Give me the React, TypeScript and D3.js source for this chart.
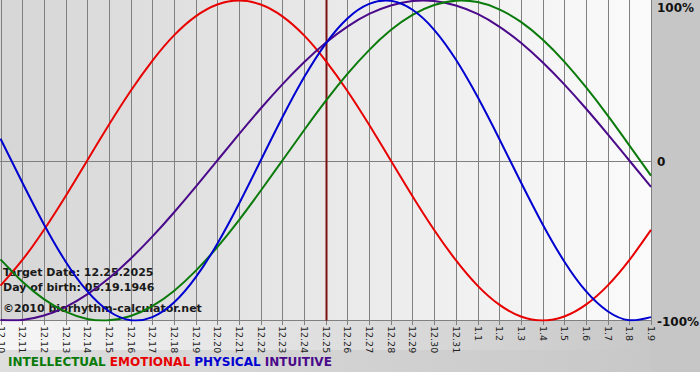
import React from "react";
import * as d3 from "d3";

const dayLabels = [
  "12.10","12.11","12.12","12.13","12.14","12.15","12.16","12.17","12.18","12.19","12.20",
  "12.21","12.22","12.23","12.24","12.25","12.26","12.27","12.28","12.29","12.30","12.31",
  "1.1","1.2","1.3","1.4","1.5","1.6","1.7","1.8","1.9",
];

const intellectual = [
  -0.618,-0.756,-0.866,-0.945,-0.990,-0.999,-0.972,-0.910,-0.815,-0.690,-0.541,
  -0.372,-0.189,0,0.189,0.372,0.541,0.690,0.815,0.910,0.972,0.999,
  0.990,0.945,0.866,0.756,0.618,0.458,0.282,0.095,-0.095,
];
const emotional = [
  -0.782,-0.623,-0.434,-0.223,0,0.223,0.434,0.623,0.782,0.901,0.975,
  1,0.975,0.901,0.782,0.623,0.434,0.223,0,-0.223,-0.434,-0.623,
  -0.782,-0.901,-0.975,-1,-0.975,-0.901,-0.782,-0.623,-0.434,
];
const physical = [
  0.136,-0.136,-0.398,-0.631,-0.817,-0.942,-0.998,-0.979,-0.888,-0.731,-0.520,
  -0.270,0,0.270,0.520,0.731,0.888,0.979,0.998,0.942,0.817,0.631,
  0.398,0.136,-0.136,-0.398,-0.631,-0.817,-0.942,-0.998,-0.979,
];
const intuitive = [
  -0.997,-0.997,-0.969,-0.916,-0.837,-0.736,-0.614,-0.476,-0.325,-0.165,0,
  0.165,0.325,0.476,0.614,0.736,0.837,0.916,0.969,0.997,0.997,0.969,
  0.916,0.837,0.736,0.614,0.476,0.325,0.165,0,-0.165,
];

const seriesNames = ["INTELLECTUAL", "EMOTIONAL", "PHYSICAL", "INTUITIVE"];
const seriesColors = ["#0a7a0a", "#e80000", "#0000d0", "#4a0a8a"];
const seriesData = [intellectual, emotional, physical, intuitive];
const drawOrder = [1, 3, 0, 2];
const targetIndex = 15;
const yTickLabels = ["100%", "0", "-100%"];
const yTickValues = [1, 0, -1];
const infoLines = ["Target Date: 12.25.2025", "Day of birth: 05.19.1946", "©2010 biorhythm-calculator.net"];

const W = 700, H = 380;
const PW = 651, PH = 320.5;

export default function App() {
  const x = d3.scaleLinear().domain([0, dayLabels.length - 1]).range([0.5, PW]);
  const y = d3.scaleLinear().domain([-1, 1]).range([PH, 0.5]);
  const line = d3.line<number>().x((_, i) => x(i)).y((d) => y(d)).curve(d3.curveNatural);
  const font = "'DejaVu Sans', Verdana, sans-serif";
  const yLabelPos = [12, y(0) + 5, y(-1) + 5];

  return (
    <svg width={W} height={H} style={{ position: "absolute", left: 0, top: 0, display: "block" }} fontFamily={font}>
      <defs>
        <linearGradient id="plotBg" x1="0" x2="1" y1="0" y2="0">
          <stop offset="0" stopColor="#d6d6d6" />
          <stop offset="1" stopColor="#fbfbfb" />
        </linearGradient>
        <linearGradient id="outerBg" x1="0" x2="1" y1="0" y2="0">
          <stop offset="0" stopColor="#f6f6f6" />
          <stop offset="1" stopColor="#c4c4c4" />
        </linearGradient>
        <linearGradient id="legendBg" x1="0" x2="1" y1="0" y2="0">
          <stop offset="0" stopColor="#dedede" />
          <stop offset="1" stopColor="#c6c6c6" />
        </linearGradient>
        <clipPath id="plotClip">
          <rect x={0} y={0} width={PW + 1} height={PH + 1} />
        </clipPath>
      </defs>
      <rect x={0} y={0} width={W} height={H} fill="#ffffff" />
      <rect x={0} y={0} width={W} height={350} fill="url(#outerBg)" />
      <rect x={0} y={350} width={W} height={22} fill="url(#legendBg)" />
      <rect x={PW} y={0} width={W - PW} height={372} fill="#c6c6c6" />
      <rect x={0} y={0} width={PW} height={PH} fill="url(#plotBg)" />

      {dayLabels.map((d, i) => (
        <line key={"g" + i} x1={Math.round(x(i)) + 0.5} x2={Math.round(x(i)) + 0.5} y1={0} y2={325} stroke="#808080" strokeWidth={1} />
      ))}
      <line x1={0} x2={PW} y1={Math.round(y(0)) + 0.5} y2={Math.round(y(0)) + 0.5} stroke="#808080" />
      <line x1={0} x2={PW} y1={PH} y2={PH} stroke="#808080" />

      <line x1={Math.round(x(targetIndex)) + 0.5} x2={Math.round(x(targetIndex)) + 0.5} y1={0} y2={PH} stroke="#7a1010" strokeWidth={2} />

      {infoLines.map((t, i) => (
        <text key={"info" + i} x={3} y={[276, 291, 312][i]} fontSize={11} fontWeight="bold" fill="#1a1a1a">{t}</text>
      ))}

      <g clipPath="url(#plotClip)">
        {drawOrder.map((s) => (
          <path key={"s" + s} d={line(seriesData[s]) || ""} fill="none" stroke={seriesColors[s]} strokeWidth={2} />
        ))}
      </g>

      {dayLabels.map((d, i) => (
        <text key={"t" + i} transform={`translate(${Math.round(x(i)) + 0.5},326) rotate(90)`} fontSize={9.5} dominantBaseline="central" fill="#222">{d}</text>
      ))}

      {yTickValues.map((v, i) => (
        <text key={"y" + i} x={657} y={yLabelPos[i]} fontSize={12} fontWeight="bold" fill="#111">{yTickLabels[i]}</text>
      ))}

      <text x={8} y={366} fontSize={12} fontWeight="bold">
        {seriesNames.map((n, i) => (
          <tspan key={n} fill={seriesColors[i]}>{(i > 0 ? " " : "") + n}</tspan>
        ))}
      </text>
    </svg>
  );
}
